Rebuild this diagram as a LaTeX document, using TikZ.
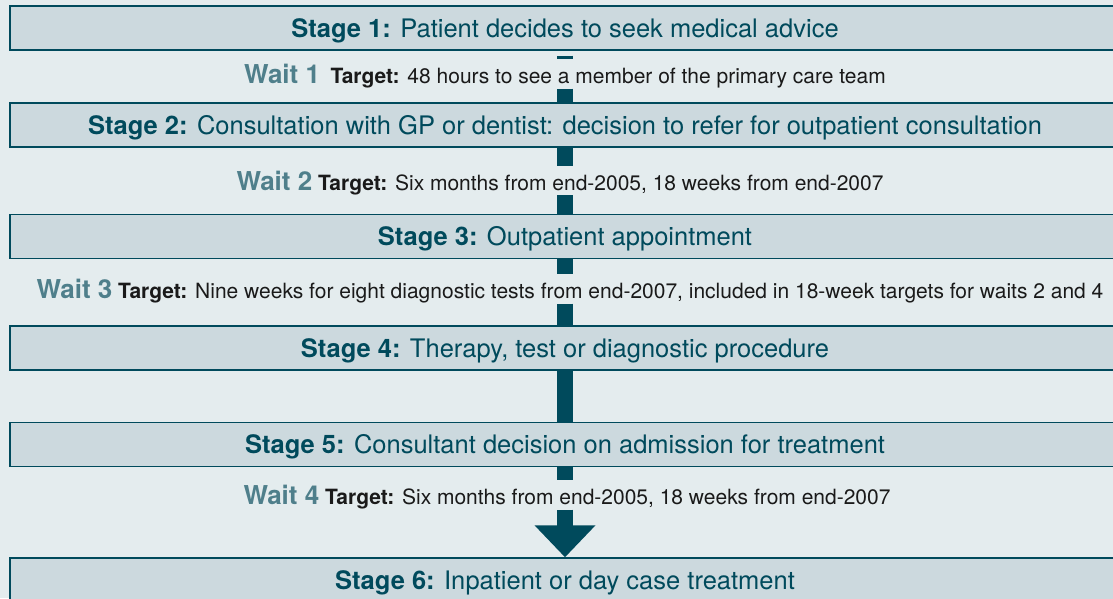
\documentclass[tikz,border=0pt]{standalone}
\usepackage{fontspec}
\setmainfont{TeX Gyre Heros}
\usetikzlibrary{arrows.meta}
\definecolor{Paper}{HTML}{E4ECEE}
\definecolor{Panel}{HTML}{CCD9DE}
\definecolor{Petrol}{HTML}{004A5C}
\definecolor{Slate}{HTML}{4F7F8B}
\definecolor{Ink}{HTML}{1A1A1A}
\newcommand\waitlabel[1]{{\color{Slate}\bfseries\fontsize{26}{30}\selectfont Wait #1}}
\newcommand\targetlabel{{\bfseries Target:}}

\begin{document}
\begin{tikzpicture}[x=1pt,y=-1pt,
    stagebox/.style={draw=Petrol,fill=Panel,line width=1.4pt,minimum width=1110pt,
      minimum height=44pt,inner sep=0pt,text height=18.5pt,text depth=0pt,
      text=Petrol,font=\fontsize{25.5}{30}\selectfont},
    waitline/.style={minimum height=29pt,inner sep=0pt,text height=19pt,text depth=0pt,
      text=Ink,font=\fontsize{21}{25}\selectfont},
    flow/.style={draw=Petrol,line width=16pt}]
    \useasboundingbox (0,0) rectangle (1113,598);
    \fill[Paper] (0,0) rectangle (1113,598);
    \clip (0,0) rectangle (1113,598);

    % the six stages
    \node[stagebox] (s1) at (565,28) {\textbf{Stage 1:} Patient decides to seek medical advice};
    \node[stagebox] (s2) at (565,125) {\textbf{Stage 2:} Consultation with GP or dentist: decision to refer for outpatient consultation};
    \node[stagebox] (s3) at (565,236.5) {\textbf{Stage 3:} Outpatient appointment};
    \node[stagebox] (s4) at (565,348) {\textbf{Stage 4:} Therapy, test or diagnostic procedure};
    \node[stagebox] (s5) at (565,444.5) {\textbf{Stage 5:} Consultant decision on admission for treatment};
    \node[stagebox] (s6) at (565,580) {\textbf{Stage 6:} Inpatient or day case treatment};

    % waits and their targets
    \node[waitline] (w1) at (565,74) {\waitlabel{1}\enspace\targetlabel{} 48 hours to see a member of the primary care team};
    \node[waitline] (w2) at (560,180.5) {\waitlabel{2} \targetlabel{} Six months from end-2005, 18 weeks from end-2007};
    \node[waitline] (w3) at (570,289) {\waitlabel{3} \targetlabel{} Nine weeks for eight diagnostic tests from end-2007, included in 18-week targets for waits 2 and 4};
    \node[waitline] (w4) at (567,495) {\waitlabel{4} \targetlabel{} Six months from end-2005, 18 weeks from end-2007};

    % the bar running down through them
    \draw[flow,shorten <=5pt] (s1.south) -- (s1.south |- w1.north);
    \draw[flow] (s1.south |- w1.south) -- (s2.north);
    \draw[flow] (s2.south) -- (s2.south |- w2.north);
    \draw[flow] (s2.south |- w2.south) -- (s3.north);
    \draw[flow] (s3.south) -- (s3.south |- w3.north);
    \draw[flow] (s3.south |- w3.south) -- (s4.north);
    \draw[flow] (s4.south) -- (s5.north);
    \draw[flow] (s5.south) -- (s5.south |- w4.north);
    \draw[flow,-{Triangle[width=59pt,length=32pt]}] (s5.south |- w4.south) -- (s6.north);
\end{tikzpicture}
\end{document}
